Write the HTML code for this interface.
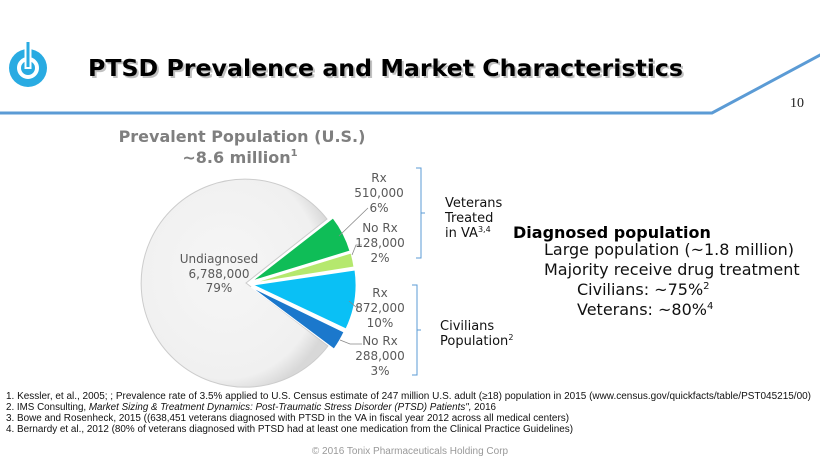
<!DOCTYPE html>
<html><head><meta charset="utf-8"><style>
body{margin:0;background:#fff}
svg{display:block}
text{font-family:"DejaVu Sans","Liberation Sans",sans-serif}
.f{font-family:"Liberation Sans",sans-serif;font-size:10px;fill:#111}
</style></head><body>
<svg width="820" height="461" viewBox="0 0 820 461" xmlns="http://www.w3.org/2000/svg">
<defs>
<radialGradient id="pg" cx="0.45" cy="0.45" r="0.6"><stop offset="0" stop-color="#f6f6f6"/><stop offset="0.85" stop-color="#f0f0f0"/><stop offset="1" stop-color="#d8d8d8"/></radialGradient>
</defs>
<!-- header -->
<polyline points="0,113 712,113 822,54" fill="none" stroke="#5b9bd5" stroke-width="3"/>
<circle cx="28" cy="68" r="19" fill="#29abe2"/>
<circle cx="28" cy="68" r="9" fill="none" stroke="#fff" stroke-width="4"/>
<rect x="25.5" y="41" width="5" height="27" fill="#29abe2" stroke="#fff" stroke-width="2"/>
<text x="90" y="78" font-size="23" font-weight="bold" fill="#999" opacity="0.6" textLength="595" lengthAdjust="spacingAndGlyphs">PTSD Prevalence and Market Characteristics</text>
<text x="88" y="76" font-size="23" font-weight="bold" fill="#000" textLength="595" lengthAdjust="spacingAndGlyphs">PTSD Prevalence and Market Characteristics</text>
<text x="790" y="107" font-size="14" fill="#222" style="font-family:'Liberation Serif',serif">10</text>
<!-- chart title -->
<text x="242" y="142" text-anchor="middle" font-size="16" font-weight="bold" fill="#7f7f7f">Prevalent Population (U.S.)</text>
<text x="240" y="163" text-anchor="middle" font-size="16" font-weight="bold" fill="#7f7f7f">~8.6 million<tspan font-size="10" dy="-7">1</tspan></text>
<!-- pie -->
<g stroke="#fff" stroke-width="1">
<path d="M246,283 L328,346 A104,104 0 1 1 327,219 Z" fill="url(#pg)" stroke="#ccc"/>
<path d="M252,281 L333,218 A103,103 0 0 1 350,251 Z" fill="#0fbd57"/>
<path d="M253,283 L351,253 A103,103 0 0 1 354,267 Z" fill="#b5e86e"/>
<path d="M253,285 L355,270 A103,103 0 0 1 346,329 Z" fill="#0ac0f5"/>
<path d="M251,287 L344,332 A103,103 0 0 1 334,349 Z" fill="#1b78cc"/>
</g>
<g stroke="#888" stroke-width="0.8" fill="none">
<polyline points="339,236 368,208"/>
<polyline points="352,255 356,245 362,245"/>
<polyline points="349,301 356,307 360,307"/>
<polyline points="340,340 350,344 362,344"/>
</g>
<g font-size="12" fill="#595959" text-anchor="middle">
<text x="379" y="182">Rx</text><text x="379" y="197">510,000</text><text x="379" y="212">6%</text>
<text x="380" y="232">No Rx</text><text x="380" y="247">128,000</text><text x="380" y="262">2%</text>
<text x="219" y="263">Undiagnosed</text><text x="219" y="278">6,788,000</text><text x="219" y="292">79%</text>
<text x="380" y="297">Rx</text><text x="380" y="312">872,000</text><text x="380" y="327">10%</text>
<text x="380" y="345">No Rx</text><text x="380" y="360">288,000</text><text x="380" y="375">3%</text>
</g>
<!-- brackets -->
<g stroke="#5b9bd5" stroke-width="1" fill="none">
<polyline points="416,168 421,168 421,258 416,258"/><line x1="421" y1="213" x2="425" y2="213"/>
<polyline points="412,285 417,285 417,375 412,375"/><line x1="417" y1="330" x2="421" y2="330"/>
</g>
<g font-size="13" fill="#111">
<text x="445" y="207">Veterans</text><text x="445" y="222">Treated</text><text x="445" y="237">in VA<tspan font-size="8" dy="-5">3,4</tspan></text>
<text x="440" y="330">Civilians</text><text x="440" y="345">Population<tspan font-size="8" dy="-5">2</tspan></text>
</g>
<text x="513" y="238" font-size="16" font-weight="bold" fill="#000">Diagnosed population</text>
<g font-size="16" fill="#111">
<text x="544" y="255">Large population (~1.8 million)</text>
<text x="544" y="275">Majority receive drug treatment</text>
<text x="577" y="295">Civilians: ~75%<tspan font-size="10" dy="-6">2</tspan></text>
<text x="577" y="315">Veterans: ~80%<tspan font-size="10" dy="-6">4</tspan></text>
</g>
<!-- footnotes -->
<text class="f" x="6" y="399" textLength="805" lengthAdjust="spacingAndGlyphs">1. Kessler, et al., 2005; ; Prevalence rate of 3.5% applied to U.S. Census estimate of 247 million U.S. adult (≥18) population in 2015 (www.census.gov/quickfacts/table/PST045215/00)</text>
<text class="f" x="6" y="410" textLength="490" lengthAdjust="spacingAndGlyphs">2. IMS Consulting, <tspan font-style="italic">Market Sizing &amp; Treatment Dynamics: Post-Traumatic Stress Disorder (PTSD) Patients",</tspan> 2016</text>
<text class="f" x="6" y="421" textLength="563" lengthAdjust="spacingAndGlyphs">3. Bowe and Rosenheck, 2015 ((638,451 veterans diagnosed with PTSD in the VA in fiscal year 2012 across all medical centers)</text>
<text class="f" x="6" y="432" textLength="567" lengthAdjust="spacingAndGlyphs">4. Bernardy et al., 2012 (80% of veterans diagnosed with PTSD had at least one medication from the Clinical Practice Guidelines)</text>
<text x="410" y="454" text-anchor="middle" style="font-family:'Liberation Sans',sans-serif" font-size="10" fill="#999">© 2016 Tonix Pharmaceuticals Holding Corp</text>
</svg>
</body></html>
